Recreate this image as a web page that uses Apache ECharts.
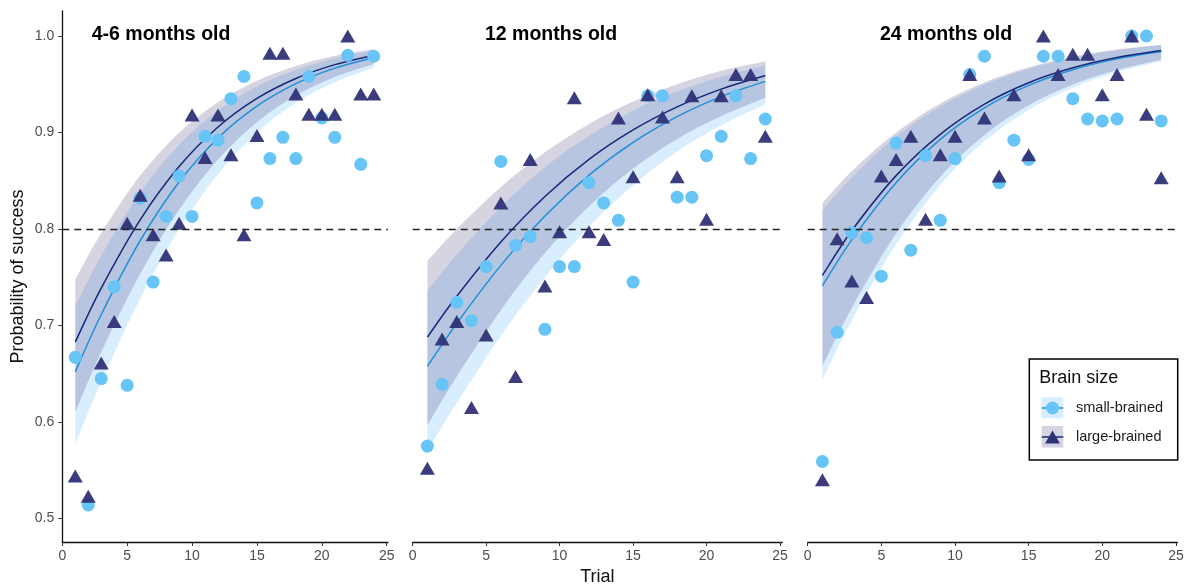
<!DOCTYPE html>
<html><head><meta charset="utf-8">
<script src="https://cdn.jsdelivr.net/npm/echarts@6/dist/echarts.min.js"></script>
<style>html,body{margin:0;padding:0;background:#fff}#c{width:1184px;height:585px}</style>
</head><body><div id="c"></div>
<script>
// ---------------- data ----------------
const panelTitles = ['4-6 months old', '12 months old', '24 months old'];
const trials = [1,2,3,4,5,6,7,8,9,10,11,12,13,14,15,16,17,18,19,20,21,22,23,24];
const xTicks = [0, 5, 10, 15, 20, 25];
const yTicks = [0.5, 0.6, 0.7, 0.8, 0.9, 1.0];
const threshold = 0.8;
const groupNames = ['small-brained', 'large-brained'];

// observed proportions
const smallP1 = [0.667,0.514,0.645,0.740,0.638,0.832,0.745,0.813,0.855,0.813,0.896,0.892,0.935,0.958,0.827,0.873,0.895,0.873,0.958,0.915,0.895,0.980,0.867,0.979];
const largeP1 = [0.544,0.523,0.661,0.704,0.806,0.835,0.794,0.773,0.806,0.918,0.874,0.918,0.877,0.794,0.897,0.982,0.982,0.940,0.919,0.919,0.919,1.000,0.940,0.940];
const smallP2 = [0.575,0.639,0.724,0.705,0.761,0.870,0.783,0.792,0.696,0.761,0.761,0.848,0.827,0.809,0.745,0.938,0.938,0.833,0.833,0.876,0.896,0.938,0.873,0.914];
const largeP2 = [0.552,0.686,0.704,0.615,0.690,0.827,0.647,0.872,0.741,0.797,0.936,0.797,0.789,0.915,0.854,0.939,0.916,0.854,0.938,0.810,0.938,0.960,0.960,0.896];
const smallP3 = [0.559,0.693,0.796,0.791,0.751,0.889,0.778,0.876,0.809,0.873,0.960,0.979,0.848,0.892,0.872,0.979,0.979,0.935,0.914,0.912,0.914,1.000,1.000,0.912];
const largeP3 = [0.540,0.790,0.746,0.729,0.855,0.872,0.896,0.810,0.877,0.896,0.960,0.915,0.855,0.939,0.877,1.000,0.960,0.981,0.981,0.939,0.960,1.000,0.919,0.853];

// fitted curves and confidence bands (read at these trials)
const fitTrials = [1,3,6,9,12,15,18,21,24];
const smallFitP1 = [0.6520,0.7114,0.7880,0.8487,0.8943,0.9273,0.9506,0.9667,0.9777];
const smallLoP1  = [0.5771,0.6415,0.7277,0.7996,0.8569,0.8998,0.9307,0.9520,0.9670];
const smallHiP1  = [0.7201,0.7725,0.8379,0.8874,0.9228,0.9477,0.9650,0.9770,0.9849];
const largeFitP1 = [0.6829,0.7387,0.8095,0.8647,0.9057,0.9353,0.9560,0.9703,0.9801];
const largeLoP1  = [0.6099,0.6724,0.7534,0.8198,0.8719,0.9106,0.9382,0.9574,0.9709];
const largeHiP1  = [0.7478,0.7956,0.8553,0.8998,0.9314,0.9535,0.9689,0.9794,0.9864];

const smallFitP2 = [0.6577,0.7022,0.7623,0.8135,0.8558,0.8898,0.9165,0.9372,0.9530];
const smallLoP2  = [0.5703,0.6196,0.6890,0.7499,0.8022,0.8452,0.8804,0.9074,0.9289];
const smallHiP2  = [0.7356,0.7735,0.8228,0.8639,0.8966,0.9226,0.9424,0.9578,0.9693];
const largeFitP2 = [0.6880,0.7303,0.7865,0.8337,0.8721,0.9026,0.9265,0.9449,0.9590];
const largeLoP2  = [0.5965,0.6471,0.7159,0.7750,0.8235,0.8626,0.8933,0.9170,0.9359];
const largeHiP2  = [0.7669,0.8000,0.8435,0.8794,0.9088,0.9320,0.9500,0.9639,0.9739];

const smallFitP3 = [0.7411,0.7890,0.8480,0.8928,0.9255,0.9488,0.9651,0.9763,0.9840];
const smallLoP3  = [0.6438,0.7055,0.7839,0.8455,0.8909,0.9234,0.9463,0.9623,0.9737];
const smallHiP3  = [0.8193,0.8537,0.8956,0.9269,0.9498,0.9661,0.9775,0.9852,0.9903];
const largeFitP3 = [0.7519,0.7984,0.8553,0.8981,0.9294,0.9516,0.9670,0.9777,0.9849];
const largeLoP3  = [0.6579,0.7183,0.7952,0.8541,0.8973,0.9282,0.9497,0.9647,0.9754];
const largeHiP3  = [0.8269,0.8601,0.8999,0.9300,0.9520,0.9677,0.9785,0.9859,0.9908];

// ---------------- styling / layout ----------------
const FONT = '"Liberation Sans", Arial, sans-serif';
const C = {
  circle: '#66c5f6', tri: '#2f3277',
  smallLine: '#1f8fd8', largeLine: '#15287a',
  smallFill: 'rgba(90,180,245,0.24)', largeFill: 'rgba(55,40,110,0.20)',
  tick: '#4d4d4d'
};
const Y_MIN = 0.4756, Y_MAX = 1.0259;
const grids = [
  {left: 62.3, top: 11, width: 325.7, height: 531, xmax: 25.1},
  {left: 412.7, top: 11, width: 369.5, height: 531, xmax: 25.15},
  {left: 807.7, top: 11, width: 369.7, height: 531, xmax: 25.1}
];
const titleLefts = [91.7, 485, 880];

const panels = [
  {small: smallP1, large: largeP1, sF: smallFitP1, sL: smallLoP1, sH: smallHiP1, lF: largeFitP1, lL: largeLoP1, lH: largeHiP1},
  {small: smallP2, large: largeP2, sF: smallFitP2, sL: smallLoP2, sH: smallHiP2, lF: largeFitP2, lL: largeLoP2, lH: largeHiP2},
  {small: smallP3, large: largeP3, sF: smallFitP3, sL: smallLoP3, sH: smallHiP3, lF: largeFitP3, lL: largeLoP3, lH: largeHiP3}
];

const zip = (xs, ys) => xs.map((x, i) => [x, ys[i]]);

// Catmull-Rom spline through pixel points -> SVG path segment
function crPath(pts, start) {
  let d = start + pts[0][0].toFixed(2) + ' ' + pts[0][1].toFixed(2);
  for (let k = 0; k < pts.length - 1; k++) {
    const p0 = pts[Math.max(k - 1, 0)], p1 = pts[k], p2 = pts[k + 1], p3 = pts[Math.min(k + 2, pts.length - 1)];
    const c1 = [p1[0] + (p2[0] - p0[0]) / 6, p1[1] + (p2[1] - p0[1]) / 6];
    const c2 = [p2[0] - (p3[0] - p1[0]) / 6, p2[1] - (p3[1] - p1[1]) / 6];
    d += ' C' + c1[0].toFixed(2) + ' ' + c1[1].toFixed(2) + ' ' + c2[0].toFixed(2) + ' ' + c2[1].toFixed(2) + ' ' + p2[0].toFixed(2) + ' ' + p2[1].toFixed(2);
  }
  return d;
}

function bandSeries(i, lo, hi, fill) {
  return {
    type: 'custom', xAxisIndex: i, yAxisIndex: i, silent: true, z: 1, clip: true,
    data: [[fitTrials[0], lo[0]]],
    renderItem: (params, api) => {
      const top = fitTrials.map((x, k) => api.coord([x, hi[k]]));
      const bot = fitTrials.map((x, k) => api.coord([x, lo[k]])).reverse();
      return {type: 'path', shape: {pathData: crPath(top, 'M') + ' ' + crPath(bot, 'L') + ' Z'},
        style: {fill: fill, stroke: null}};
    }
  };
}
function fitSeries(i, ys, color, name) {
  return {
    type: 'custom', name: name, xAxisIndex: i, yAxisIndex: i, silent: true, z: 2, clip: true,
    data: [[fitTrials[0], ys[0]]],
    renderItem: (params, api) => {
      const pts = fitTrials.map((x, k) => api.coord([x, ys[k]]));
      return {type: 'path', shape: {pathData: crPath(pts, 'M')},
        style: {fill: null, stroke: color, lineWidth: 1.5}};
    }
  };
}

const series = [];
panels.forEach((p, i) => {
  const ax = {xAxisIndex: i, yAxisIndex: i};
  series.push(bandSeries(i, p.sL, p.sH, C.smallFill));
  series.push(bandSeries(i, p.lL, p.lH, C.largeFill));
  series.push(fitSeries(i, p.sF, C.smallLine, groupNames[0] + ' fit'));
  series.push(fitSeries(i, p.lF, C.largeLine, groupNames[1] + ' fit'));
  series.push(Object.assign({type: 'scatter', name: groupNames[0], data: zip(trials, p.small), symbol: 'circle',
    symbolSize: 13, itemStyle: {color: C.circle, opacity: 1}, z: 3,
    markLine: {silent: true, symbol: 'none', label: {show: false}, animation: false,
      lineStyle: {color: '#222', width: 1.3, type: [7, 5]}, data: [{yAxis: threshold}]}}, ax));
  series.push(Object.assign({type: 'scatter', name: groupNames[1], data: zip(trials, p.large), symbol: 'triangle',
    symbolSize: [15, 13], itemStyle: {color: C.tri, opacity: 0.95}, z: 4}, ax));
});

const xAxes = grids.map((g, i) => ({
  gridIndex: i, type: 'value', min: 0, max: g.xmax,
  name: i === 1 ? 'Trial' : '', nameLocation: 'middle', nameGap: 25,
  nameTextStyle: {fontFamily: FONT, fontSize: 18, color: '#111'},
  axisLine: {show: true, lineStyle: {color: '#111', width: 1.3}},
  axisTick: {show: true, length: 4, lineStyle: {color: '#333'}, customValues: xTicks},
  axisLabel: {show: true, customValues: xTicks, fontFamily: FONT, fontSize: 14, color: C.tick, margin: 7},
  splitLine: {show: false}
}));
const yAxes = grids.map((g, i) => ({
  gridIndex: i, type: 'value', min: Y_MIN, max: Y_MAX, show: i === 0,
  name: i === 0 ? 'Probability of success' : '', nameLocation: 'middle', nameGap: 35,
  nameTextStyle: {fontFamily: FONT, fontSize: 18, color: '#111'},
  axisLine: {show: true, lineStyle: {color: '#111', width: 1.3}},
  axisTick: {show: true, length: 4, lineStyle: {color: '#333'}, customValues: yTicks},
  axisLabel: {show: true, customValues: yTicks, fontFamily: FONT, fontSize: 14, color: C.tick, margin: 8,
    formatter: v => v.toFixed(1)},
  splitLine: {show: false}
}));

// legend (drawn box, ggplot-style keys)
const LX = 1029.3, LY = 359;
const legendGraphic = [
  {type: 'rect', shape: {x: LX, y: LY, width: 148.4, height: 101}, style: {fill: '#fff', stroke: '#000', lineWidth: 1.5}, z: 100},
  {type: 'text', x: LX + 10, y: LY + 19, style: {text: 'Brain size', font: '18px ' + FONT, fill: '#111', verticalAlign: 'middle'}, z: 101},
  {type: 'rect', shape: {x: LX + 12.4, y: LY + 38.3, width: 21.6, height: 21}, style: {fill: C.smallFill}, z: 101},
  {type: 'line', shape: {x1: LX + 12.4, y1: LY + 49, x2: LX + 34, y2: LY + 49}, style: {stroke: C.smallLine, lineWidth: 1.5}, z: 102},
  {type: 'circle', shape: {cx: LX + 23.2, cy: LY + 49, r: 6.5}, style: {fill: C.circle}, z: 103},
  {type: 'text', x: LX + 46.7, y: LY + 49.3, style: {text: groupNames[0], font: '14.5px ' + FONT, fill: '#1a1a1a', verticalAlign: 'middle'}, z: 101},
  {type: 'rect', shape: {x: LX + 12.4, y: LY + 67, width: 21.6, height: 21.6}, style: {fill: C.largeFill}, z: 101},
  {type: 'line', shape: {x1: LX + 12.4, y1: LY + 78, x2: LX + 34, y2: LY + 78}, style: {stroke: C.largeLine, lineWidth: 1.5}, z: 102},
  {type: 'polygon', shape: {points: [[LX + 23.2, LY + 71.5], [LX + 30.7, LY + 84.5], [LX + 15.7, LY + 84.5]]}, style: {fill: C.tri}, z: 103},
  {type: 'text', x: LX + 46.7, y: LY + 77.7, style: {text: groupNames[1], font: '14.5px ' + FONT, fill: '#1a1a1a', verticalAlign: 'middle'}, z: 101}
];

const chart = echarts.init(document.getElementById('c'), null, {renderer: 'canvas'});
chart.setOption({
  backgroundColor: '#fff',
  animation: false,
  title: panelTitles.map((t, i) => ({text: t, left: titleLefts[i], top: 25, padding: 0,
    textStyle: {fontFamily: FONT, fontSize: 19.5, fontWeight: 'bold', color: '#000'}})),
  grid: grids.map(g => ({left: g.left, top: g.top, width: g.width, height: g.height,
    containLabel: false, outerBoundsMode: 'none'})),
  xAxis: xAxes,
  yAxis: yAxes,
  series: series,
  graphic: legendGraphic
});
</script></body></html>
